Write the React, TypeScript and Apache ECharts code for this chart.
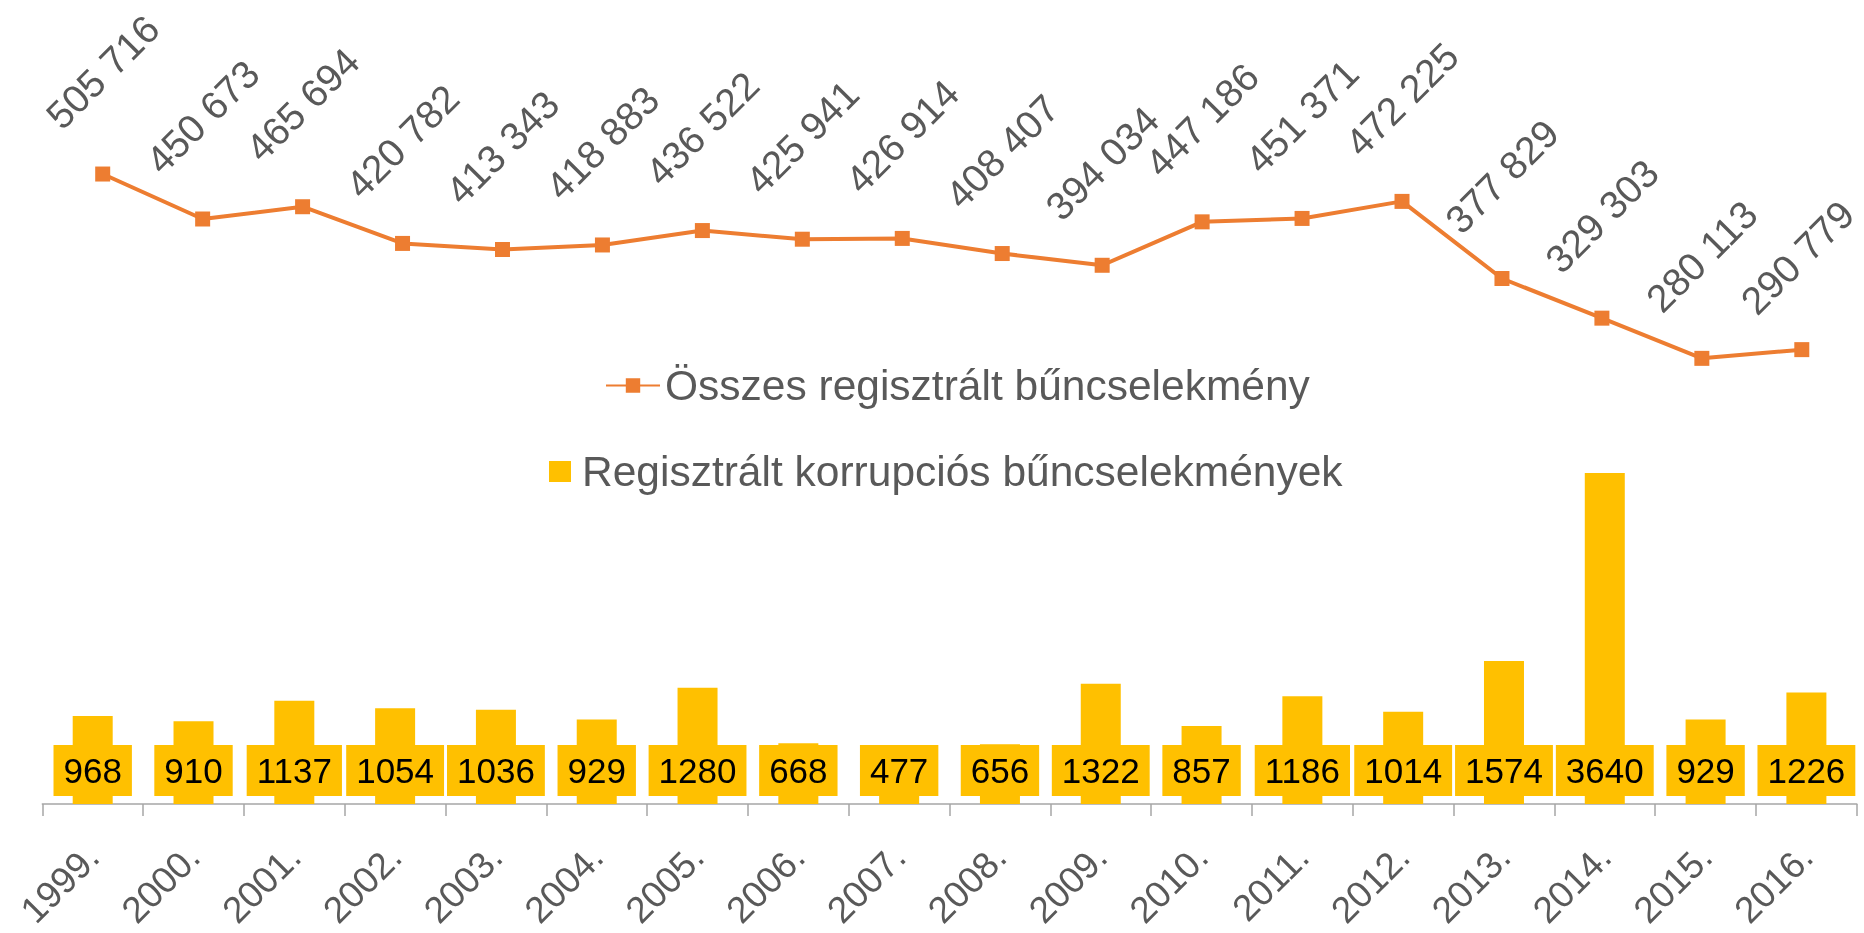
import React, { useEffect, useRef } from 'react';
import * as echarts from 'echarts';

const categories = ['1999.', '2000.', '2001.', '2002.', '2003.', '2004.', '2005.', '2006.', '2007.', '2008.', '2009.', '2010.', '2011.', '2012.', '2013.', '2014.', '2015.', '2016.'];
const totalCrimes = [505716, 450673, 465694, 420782, 413343, 418883, 436522, 425941, 426914, 408407, 394034, 447186, 451371, 472225, 377829, 329303, 280113, 290779];
const corruptionCrimes = [968, 910, 1137, 1054, 1036, 929, 1280, 668, 477, 656, 1322, 857, 1186, 1014, 1574, 3640, 929, 1226];

const lineName = 'Összes regisztrált bűncselekmény';
const barName = 'Regisztrált korrupciós bűncselekmények';

export default function App() {
  const ref = useRef<HTMLDivElement>(null);
  useEffect(() => {
    const chart = echarts.init(ref.current!, null, { renderer: 'svg' });
    const textColor = '#595959';
    const font = '"Liberation Sans", Arial, sans-serif';
    const fmt = (v: number) => String(v).replace(/\B(?=(\d{3})+(?!\d))/g, ' ');
    const lastIndex = totalCrimes.length - 1;
    chart.setOption({
      animation: false,
      textStyle: { fontFamily: font },
      grid: [
        { left: 42.3, right: 7.2, top: 440.4, bottom: 129 },
        { left: 102.7, right: 62.2, top: 97, bottom: 345.8 },
      ],
      xAxis: [
        {
          type: 'category', gridIndex: 0, data: categories, boundaryGap: true,
          axisLine: { lineStyle: { color: '#A6A6A6', width: 1.5 } },
          axisTick: { show: true, length: 12, lineStyle: { color: '#A6A6A6', width: 1.5 } },
          axisLabel: { rotate: 45, margin: 47, fontSize: 37, color: textColor, interval: 0, fontFamily: font },
        },
        { type: 'category', gridIndex: 1, data: categories, boundaryGap: false, show: false },
      ],
      yAxis: [
        { type: 'value', gridIndex: 0, min: 0, max: 4000, show: false, splitLine: { show: false } },
        { type: 'value', gridIndex: 1, min: 0, max: 600000, show: false, splitLine: { show: false } },
      ],
      legend: [
        {
          data: [lineName], left: 605, top: 364, itemWidth: 54, itemHeight: 18, padding: 0,
          textStyle: { fontSize: 42.5, color: textColor, fontFamily: font },
        },
        {
          data: [{ name: barName, icon: 'rect' }], left: 549, top: 450, itemWidth: 22, itemHeight: 21, padding: 0,
          textStyle: { fontSize: 42.5, color: textColor, fontFamily: font, padding: [0, 0, 0, 6] },
        },
      ],
      series: [
        {
          name: barName, type: 'bar', xAxisIndex: 0, yAxisIndex: 0, data: corruptionCrimes,
          barWidth: 40, itemStyle: { color: '#FFC000' },
          label: {
            show: true, position: 'insideBottom', distance: 8, color: '#000000', fontSize: 35,
            fontFamily: font, backgroundColor: '#FFC000', padding: [8, 10],
          },
        },
        {
          name: lineName, type: 'line', xAxisIndex: 1, yAxisIndex: 1, data: totalCrimes,
          symbol: 'rect', symbolSize: 15,
          lineStyle: { color: '#ED7D31', width: 4 },
          itemStyle: { color: '#ED7D31' },
          label: {
            show: true, position: 'top', distance: 94.5, rotate: 45, align: 'center', verticalAlign: 'middle',
            fontSize: 39, color: textColor, fontFamily: font,
            formatter: (p: any) => fmt(p.value),
          },
          labelLayout: (p: any) => (p.dataIndex === lastIndex ? { dx: -10, dy: 4 } : {}),
        },
      ],
    });
    return () => chart.dispose();
  }, []);
  return <div ref={ref} style={{ position: 'fixed', left: 0, top: 0, width: '1864px', height: '933px' }} />;
}
